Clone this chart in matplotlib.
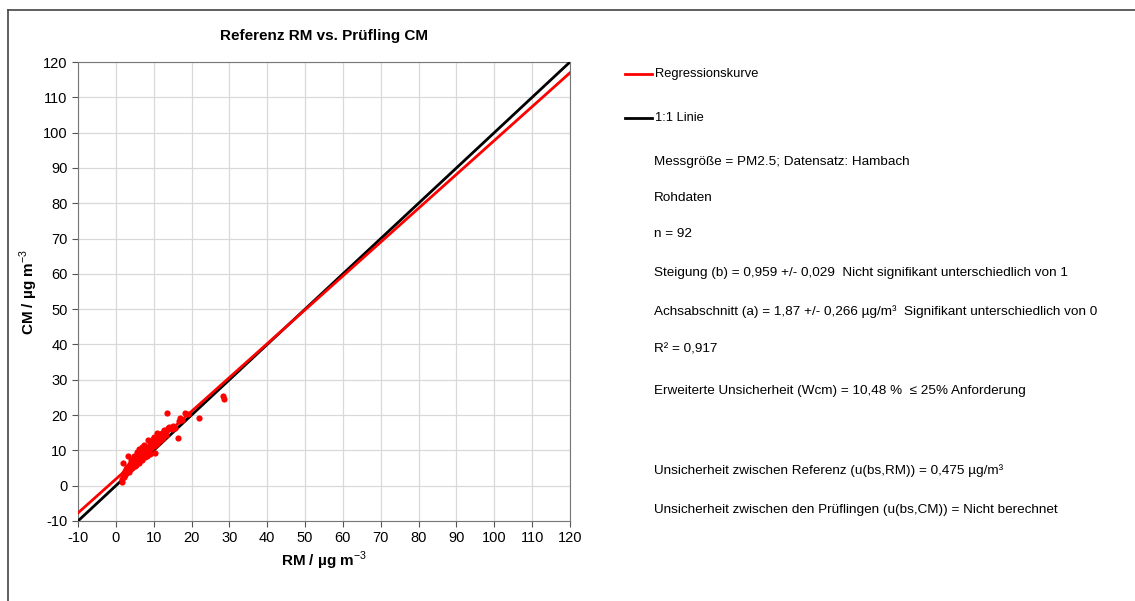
import numpy as np
import matplotlib.pyplot as plt
from matplotlib.lines import Line2D

plt.rcParams['font.family'] = ['Liberation Sans', 'DejaVu Sans']
plt.rcParams['mathtext.fontset'] = 'custom'
plt.rcParams['mathtext.rm'] = 'Liberation Sans'
plt.rcParams['mathtext.bf'] = 'Liberation Sans:bold'
plt.rcParams['axes.unicode_minus'] = False

# paired daily values (RM = reference, CM = candidate)
rm_values = [13.4, 18.4, 17.0, 22.1, 16.3, 10.4, 28.4, 28.6, 1.8, 3.2, 1.6, 1.5,
             14.0, 12.8, 11.9, 12.2, 11.2, 10.5, 9.7, 9.9, 8.9, 9.2, 8.0, 8.4,
             7.6, 7.1, 7.4, 6.8, 6.2, 6.5, 5.9, 5.6, 5.2, 4.9, 4.6, 4.3, 4.0,
             3.7, 3.4, 3.0, 2.7, 2.4, 2.1, 2.8, 3.6, 4.1, 4.8, 5.3, 5.8, 6.3,
             6.7, 7.2, 7.8, 8.3, 8.7, 9.4, 10.0, 10.8, 11.5, 12.5, 13.3, 14.8,
             15.6, 16.8, 17.5, 19.0, 6.0, 7.0, 8.1, 9.0, 5.0, 4.4, 3.2, 2.5,
             3.9, 5.5, 6.9, 8.6, 10.2, 11.0, 13.8, 15.2, 2.2, 4.7, 6.1, 7.5,
             9.6, 12.0, 3.5, 5.4, 7.7, 1.9]
cm_values = [20.7, 20.7, 19.3, 19.3, 13.6, 9.3, 25.4, 24.6, 6.4, 8.3, 1.8, 1.0,
             16.7, 15.8, 14.6, 14.9, 14.0, 13.4, 13.2, 12.6, 12.5, 11.8, 11.1, 10.9,
             10.5, 10.2, 9.6, 9.7, 9.3, 8.7, 8.9, 8.2, 7.9, 7.4, 7.7, 6.9, 6.5,
             6.1, 5.7, 5.2, 4.6, 4.1, 3.6, 3.9, 5.0, 5.5, 6.2, 6.6, 7.1, 7.6,
             8.0, 8.5, 9.0, 9.6, 10.1, 10.6, 11.2, 11.9, 12.6, 13.4, 14.3, 16.0,
             16.4, 18.2, 18.6, 20.3, 6.4, 7.2, 8.5, 9.1, 5.6, 5.0, 4.4, 2.9,
             7.2, 9.5, 11.0, 12.8, 13.9, 14.8, 16.2, 17.0, 2.5, 8.5, 10.3, 11.5,
             12.0, 13.0, 3.8, 5.9, 8.0, 3.0]

slope = 0.959
intercept = 1.87
axis_range = [-10, 120]

info_lines = [
    "Messgröße = PM2.5; Datensatz: Hambach",
    "Rohdaten",
    "n = 92",
    "Steigung (b) = 0,959 +/- 0,029  Nicht signifikant unterschiedlich von 1",
    "Achsabschnitt (a) = 1,87 +/- 0,266 µg/m³  Signifikant unterschiedlich von 0",
    "R² = 0,917",
    "Erweiterte Unsicherheit (Wcm) = 10,48 %  ≤ 25% Anforderung",
    "Unsicherheit zwischen Referenz (u(bs,RM)) = 0,475 µg/m³",
    "Unsicherheit zwischen den Prüflingen (u(bs,CM)) = Nicht berechnet",
]
info_y = [162, 198, 234, 273, 312, 350, 391, 471, 510]

W, H = 1135, 601
fig = plt.figure(figsize=(W / 100, H / 100), dpi=100)
ax = fig.add_axes([78 / W, 1 - 521 / H, (570 - 78) / W, (521 - 62) / H])

xr = np.array(axis_range, dtype=float)
ax.plot(xr, xr, color='black', lw=2.0, zorder=3)
ax.plot(xr, intercept + slope * xr, color='#ff0000', lw=2.0, zorder=4)
ax.scatter(rm_values, cm_values, s=20, color='#ff0000', zorder=5, linewidths=0)

ax.set_xlim(axis_range)
ax.set_ylim(axis_range)
ax.set_xticks(np.arange(-10, 121, 10))
ax.set_yticks(np.arange(-10, 121, 10))
ax.grid(True, color='#d9d9d9', lw=0.9)
ax.set_axisbelow(True)
ax.tick_params(labelsize=10.5, length=4, width=0.8, color='#555555')
for sp in ax.spines.values():
    sp.set_color('#777777')
    sp.set_linewidth(0.8)

ax.set_title("Referenz RM vs. Prüfling CM", fontsize=11, fontweight='bold', pad=16)
ax.set_xlabel(r"RM / µg m$^{-3}$", fontsize=11, fontweight='bold', labelpad=3)
ax.set_ylabel(r"CM / µg m$^{-3}$", fontsize=11, fontweight='bold', labelpad=2)

# legend-like annotation block on the right
fig.add_artist(Line2D([625 / W, 652 / W], [1 - 74 / H] * 2, color='#ff0000', lw=2.0))
fig.add_artist(Line2D([625 / W, 652 / W], [1 - 118 / H] * 2, color='black', lw=2.0))
fig.text(655 / W, 1 - 74 / H, "Regressionskurve", fontsize=9.3, va='center')
fig.text(655 / W, 1 - 118 / H, "1:1 Linie", fontsize=9.3, va='center')
for txt, py in zip(info_lines, info_y):
    fig.text(654 / W, 1 - py / H, txt, fontsize=9.7, va='center')

# frame edges of the original chart area
fig.add_artist(Line2D([8 / W, 1.0], [1 - 10 / H] * 2, color='#444444', lw=1.2))
fig.add_artist(Line2D([8 / W] * 2, [0.0, 1 - 10 / H], color='#444444', lw=1.2))

fig.savefig("out.png", dpi=100)
